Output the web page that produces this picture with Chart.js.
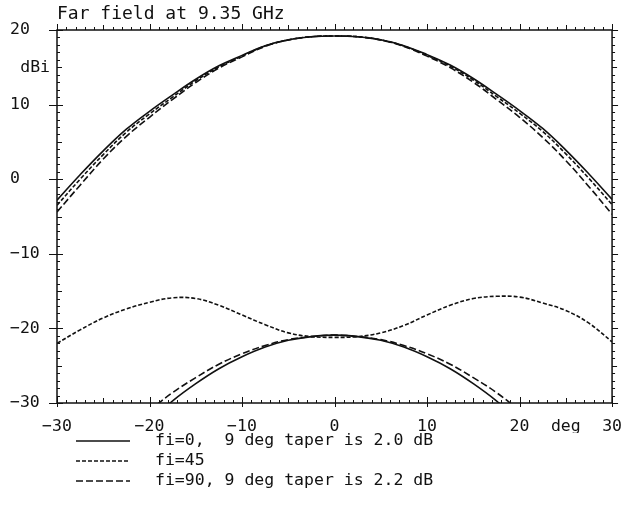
<!DOCTYPE html>
<html>
<head>
<meta charset="utf-8">
<script src="https://cdn.jsdelivr.net/npm/chart.js@4.4.1/dist/chart.umd.min.js"></script>
<style>
  html, body { margin: 0; padding: 0; background: #fff; }
  #wrap { width: 628px; height: 508px; }
</style>
</head>
<body>
<div id="wrap"><canvas id="chart"></canvas></div>
<script>
// Angle grid (deg)
const angles = [-30, -27.5, -25, -22.5, -20, -17.5, -15, -12.5, -10, -7.5, -5, -2.5, 0,
                2.5, 5, 7.5, 10, 12.5, 15, 17.5, 20, 22.5, 25, 27.5, 30];

// Main beam, dBi
const copolFi0 = [-2.8, 0.6, 3.8, 6.7, 9.1, 11.3, 13.4, 15.2, 16.6, 17.9, 18.7, 19.1, 19.2,
                  19.1, 18.7, 17.9, 16.7, 15.3, 13.5, 11.4, 9.2, 6.8, 3.9, 0.7, -2.7];
const copolFi45 = [-3.5, 0.0, 3.3, 6.3, 8.75, 11.0, 13.2, 15.05, 16.5, 17.85, 18.67, 19.1, 19.2,
                   19.1, 18.67, 17.85, 16.6, 15.15, 13.3, 11.1, 8.85, 6.4, 3.4, 0.1, -3.4];
const copolFi90 = [-4.4, -0.8, 2.7, 5.75, 8.3, 10.7, 12.95, 14.9, 16.4, 17.8, 18.65, 19.1, 19.2,
                   19.1, 18.65, 17.8, 16.5, 14.95, 13.0, 10.7, 8.3, 5.6, 2.5, -1.0, -4.7];

// Low level curves, dBi
const xpolFi45 = [-22.0, -20.2, -18.6, -17.4, -16.5, -15.9, -16.0, -16.9, -18.2, -19.5, -20.6, -21.1, -21.2,
                  -21.1, -20.6, -19.6, -18.2, -16.9, -16.0, -15.7, -15.8, -16.6, -17.6, -19.3, -21.8];
const lowFi0 = [null, null, null, null, -32.4, -29.7, -27.4, -25.4, -23.8, -22.5, -21.6, -21.1, -20.9,
                -21.1, -21.6, -22.5, -23.8, -25.4, -27.4, -29.7, -32.4, null, null, null, null];
const lowFi90 = [null, null, null, null, -31.0, -28.6, -26.6, -24.8, -23.4, -22.3, -21.5, -21.1, -20.9,
                 -21.1, -21.5, -22.3, -23.4, -24.8, -26.6, -28.6, -31.0, null, null, null, null];

const titleText = 'Far field at 9.35 GHz';
const legendLabels = ['fi=0,  9 deg taper is 2.0 dB', 'fi=45', 'fi=90, 9 deg taper is 2.2 dB'];
const legendDashes = [[], [4, 2], [7, 3]];

const ink = '#111';
const mono = '"DejaVu Sans Mono", "Liberation Mono", monospace';

function series(values, dash) {
    return {
        data: angles.map((a, i) => ({ x: a, y: values[i] })),
        borderColor: ink,
        borderWidth: 1.6,
        borderDash: dash,
        pointRadius: 0,
        tension: 0.4,
        fill: false
    };
}

// Frame, tick marks and the plotter-style texts
const plotterFrame = {
    id: 'plotterFrame',
    afterDraw(chart) {
        const { ctx, chartArea: a, scales: { x, y } } = chart;
        ctx.save();
        ctx.strokeStyle = ink;
        ctx.lineWidth = 1.5;
        ctx.strokeRect(a.left, a.top, a.right - a.left, a.bottom - a.top);

        ctx.lineWidth = 1;
        ctx.beginPath();
        for (let v = -30; v <= 30; v++) {
            const px = Math.round(x.getPixelForValue(v)) + 0.5;
            const len = v % 10 === 0 ? 6 : (v % 5 === 0 ? 5 : 3);
            ctx.moveTo(px, a.bottom); ctx.lineTo(px, a.bottom - len);
            ctx.moveTo(px, a.top); ctx.lineTo(px, a.top - len);
            if (v % 10 === 0) { ctx.moveTo(px, a.bottom); ctx.lineTo(px, a.bottom + 4); }
        }
        for (let v = -30; v <= 20; v++) {
            const py = Math.round(y.getPixelForValue(v)) + 0.5;
            const len = v % 10 === 0 ? 6 : (v % 5 === 0 ? 5 : 3);
            ctx.moveTo(a.left, py); ctx.lineTo(a.left + len, py);
            ctx.moveTo(a.right, py); ctx.lineTo(a.right + len, py);
            if (v % 10 === 0) { ctx.moveTo(a.left, py); ctx.lineTo(a.left - 8, py); }
        }
        ctx.stroke();

        ctx.fillStyle = ink;
        ctx.font = '18px ' + mono;
        ctx.textAlign = 'left';
        ctx.textBaseline = 'alphabetic';
        ctx.fillText(titleText, a.left, 19);

        ctx.font = '16.5px ' + mono;
        ctx.textAlign = 'right';
        ctx.textBaseline = 'middle';
        ctx.fillText('dBi', a.left - 7, y.getPixelForValue(15));

        // legend
        ctx.textAlign = 'left';
        legendLabels.forEach((label, i) => {
            const ly = 441 + i * 20;
            ctx.beginPath();
            ctx.setLineDash(legendDashes[i]);
            ctx.lineWidth = 1.5;
            ctx.moveTo(76, ly);
            ctx.lineTo(130, ly);
            ctx.stroke();
            ctx.setLineDash([]);
            ctx.fillText(label, 155, ly);
        });
        ctx.restore();
    }
};

new Chart(document.getElementById('chart'), {
    type: 'line',
    data: {
        datasets: [
            series(copolFi0, []),
            series(copolFi45, [4, 2]),
            series(copolFi90, [7, 3]),
            series(xpolFi45, [4, 2]),
            series(lowFi0, []),
            series(lowFi90, [7, 3])
        ]
    },
    options: {
        responsive: true,
        maintainAspectRatio: false,
        animation: false,
        layout: { padding: { top: 30, right: 15, bottom: 75, left: 10 } },
        plugins: {
            legend: { display: false },
            title: { display: false },
            tooltip: { enabled: false }
        },
        scales: {
            x: {
                type: 'linear',
                min: -30,
                max: 30,
                grid: { display: false },
                border: { display: false },
                ticks: {
                    stepSize: 5,
                    autoSkip: false,
                    maxRotation: 0,
                    padding: 6,
                    color: ink,
                    font: { family: mono, size: 16.5 },
                    callback: v => v % 10 === 0 ? String(v).replace('-', '\u2212') : (v === 25 ? 'deg' : '')
                },
                afterFit: scale => { scale.height = 30; }
            },
            y: {
                min: -30,
                max: 20,
                grid: { display: false },
                border: { display: false },
                ticks: {
                    stepSize: 10,
                    crossAlign: 'far',
                    color: ink,
                    font: { family: mono, size: 16.5 },
                    callback: v => String(v).replace('-', '\u2212')
                },
                afterFit: scale => { scale.width = 47; }
            }
        }
    },
    plugins: [plotterFrame]
});
</script>
</body>
</html>
